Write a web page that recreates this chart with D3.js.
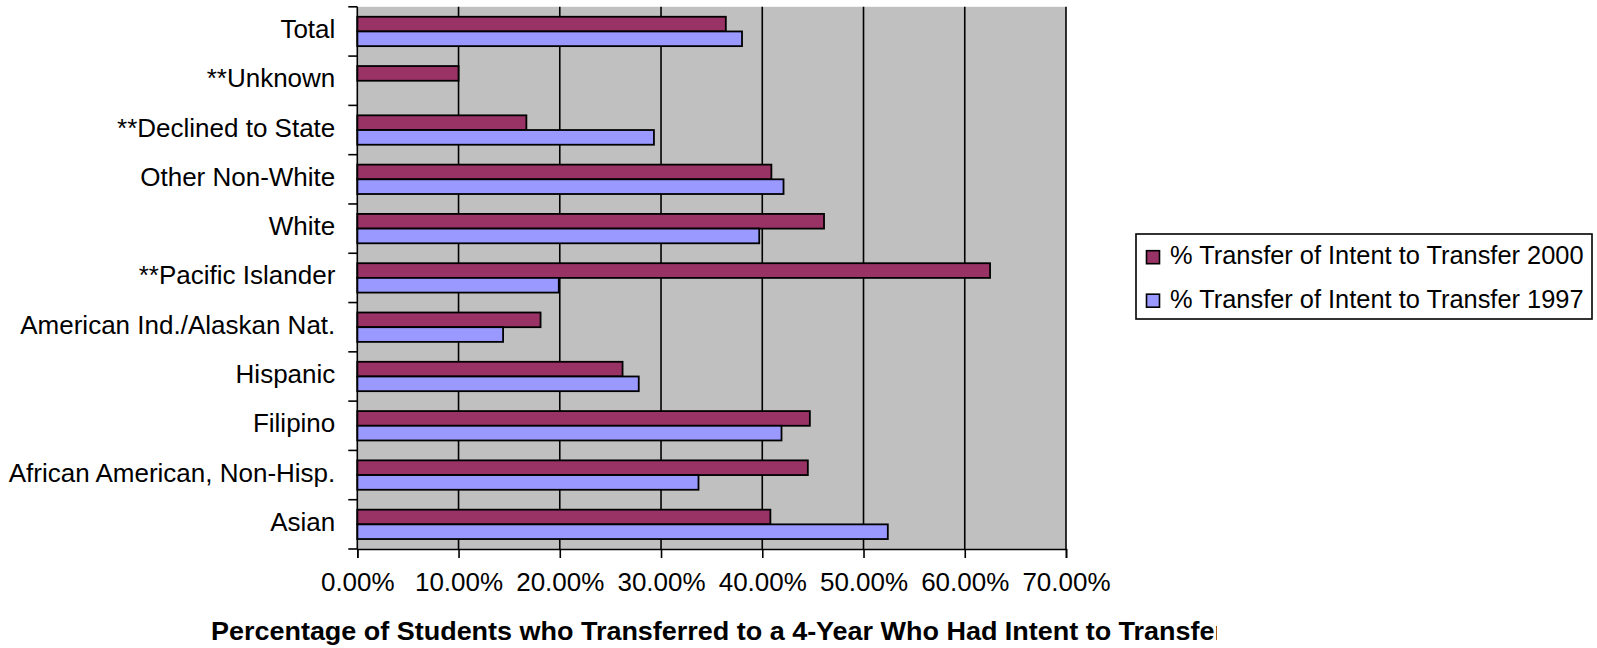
<!DOCTYPE html>
<html><head><meta charset="utf-8">
<script src="https://cdn.jsdelivr.net/npm/d3@7"></script>
<style>
html,body{margin:0;padding:0;background:#fff;}
text{font-family:"Liberation Sans",Arial,sans-serif;fill:#000;}
</style></head>
<body><svg id="c" width="1597" height="648"></svg>
<script>
const categories = ["Total","**Unknown","**Declined to State","Other Non-White","White","**Pacific Islander","American Ind./Alaskan Nat.","Hispanic","Filipino","African American, Non-Hisp.","Asian"];
const values2000 = [0.364, 0.100, 0.167, 0.409, 0.461, 0.625, 0.181, 0.262, 0.447, 0.445, 0.408];
const values1997 = [0.380, null, 0.293, 0.421, 0.397, 0.199, 0.144, 0.278, 0.419, 0.337, 0.524];
const seriesNames = ["% Transfer of Intent to Transfer 2000","% Transfer of Intent to Transfer 1997"];
const tickValues = [0,0.1,0.2,0.3,0.4,0.5,0.6,0.7];
const xTitle = "Percentage of Students who Transferred to a 4-Year Who Had Intent to Transfer";
const colors = ["#993366","#9999FF"];

const svg = d3.select("#c");
const L=357.3, R=1066, T=6.8, B=549;
const x = d3.scaleLinear().domain([0,0.7]).range([L,R]);
const y = d3.scaleBand().domain(categories).range([T,B]);
const bw = y.bandwidth();
const barH = bw*0.298;
const off = (bw-2*barH)/2;

svg.append("rect").attr("x",L).attr("y",T).attr("width",R-L).attr("height",B-T).attr("fill","#C0C0C0");

// gridlines
svg.append("g").selectAll("line").data(tickValues.slice(1)).join("line")
  .attr("x1",d=>x(d)).attr("x2",d=>x(d)).attr("y1",T).attr("y2",B)
  .attr("stroke","#000").attr("stroke-width",1.6);

const series = [values2000, values1997];
series.forEach((vals,si)=>{
  svg.append("g").selectAll("rect").data(categories.map((c,i)=>({c,v:vals[i]})).filter(d=>d.v!=null)).join("rect")
    .attr("x",x(0)).attr("y",d=>y(d.c)+off+si*barH)
    .attr("width",d=>x(d.v)-x(0)).attr("height",barH)
    .attr("fill",colors[si]).attr("stroke","#000").attr("stroke-width",1.8);
});

// y axis
const ya = svg.append("g").attr("transform",`translate(${L},0)`)
  .call(d3.axisLeft(y).tickSize(0).tickPadding(22));
ya.select(".domain").remove();
ya.selectAll("text").style("font-size","26px").attr("dy","0.25em").attr("fill","#000");
// category boundary ticks
const bounds = categories.map(c=>y(c)).concat([B]);
svg.append("g").selectAll("line").data(bounds).join("line")
  .attr("x1",L-9).attr("x2",L).attr("y1",d=>d).attr("y2",d=>d)
  .attr("stroke","#000").attr("stroke-width",1.6);
svg.append("line").attr("x1",L).attr("x2",L).attr("y1",T).attr("y2",B).attr("stroke","#000").attr("stroke-width",1.6);

// x axis
const xa = svg.append("g").attr("transform",`translate(0,${B})`)
  .call(d3.axisBottom(x).tickValues(tickValues).tickFormat(d3.format(".2%")).tickSize(9).tickPadding(10));
xa.select(".domain").attr("stroke","#000").attr("stroke-width",1.6);
xa.selectAll(".tick line").attr("stroke","#000").attr("stroke-width",1.6);
xa.selectAll("text").style("font-size","26px").attr("fill","#000").attr("dy","0.9em");

// x title (clipped)
svg.append("clipPath").attr("id","tc").append("rect").attr("x",0).attr("y",600).attr("width",1217).attr("height",48);
svg.append("text").attr("clip-path","url(#tc)").attr("x",211).attr("y",640)
  .attr("textLength",1014).attr("lengthAdjust","spacingAndGlyphs")
  .style("font-size","26.5px").style("font-weight","bold").text(xTitle);

// legend
const lg = svg.append("g");
lg.append("rect").attr("x",1136).attr("y",234).attr("width",456).attr("height",85)
  .attr("fill","#fff").attr("stroke","#000").attr("stroke-width",1.6);
seriesNames.forEach((n,i)=>{
  const yy = 250.7 + i*43.5;
  lg.append("rect").attr("x",1146.5).attr("y",yy).attr("width",13).attr("height",13)
    .attr("fill",colors[i]).attr("stroke","#000").attr("stroke-width",1.6);
  lg.append("text").attr("x",1170).attr("y",yy+13.6).style("font-size","25.4px").text(n);
});
</script></body></html>
